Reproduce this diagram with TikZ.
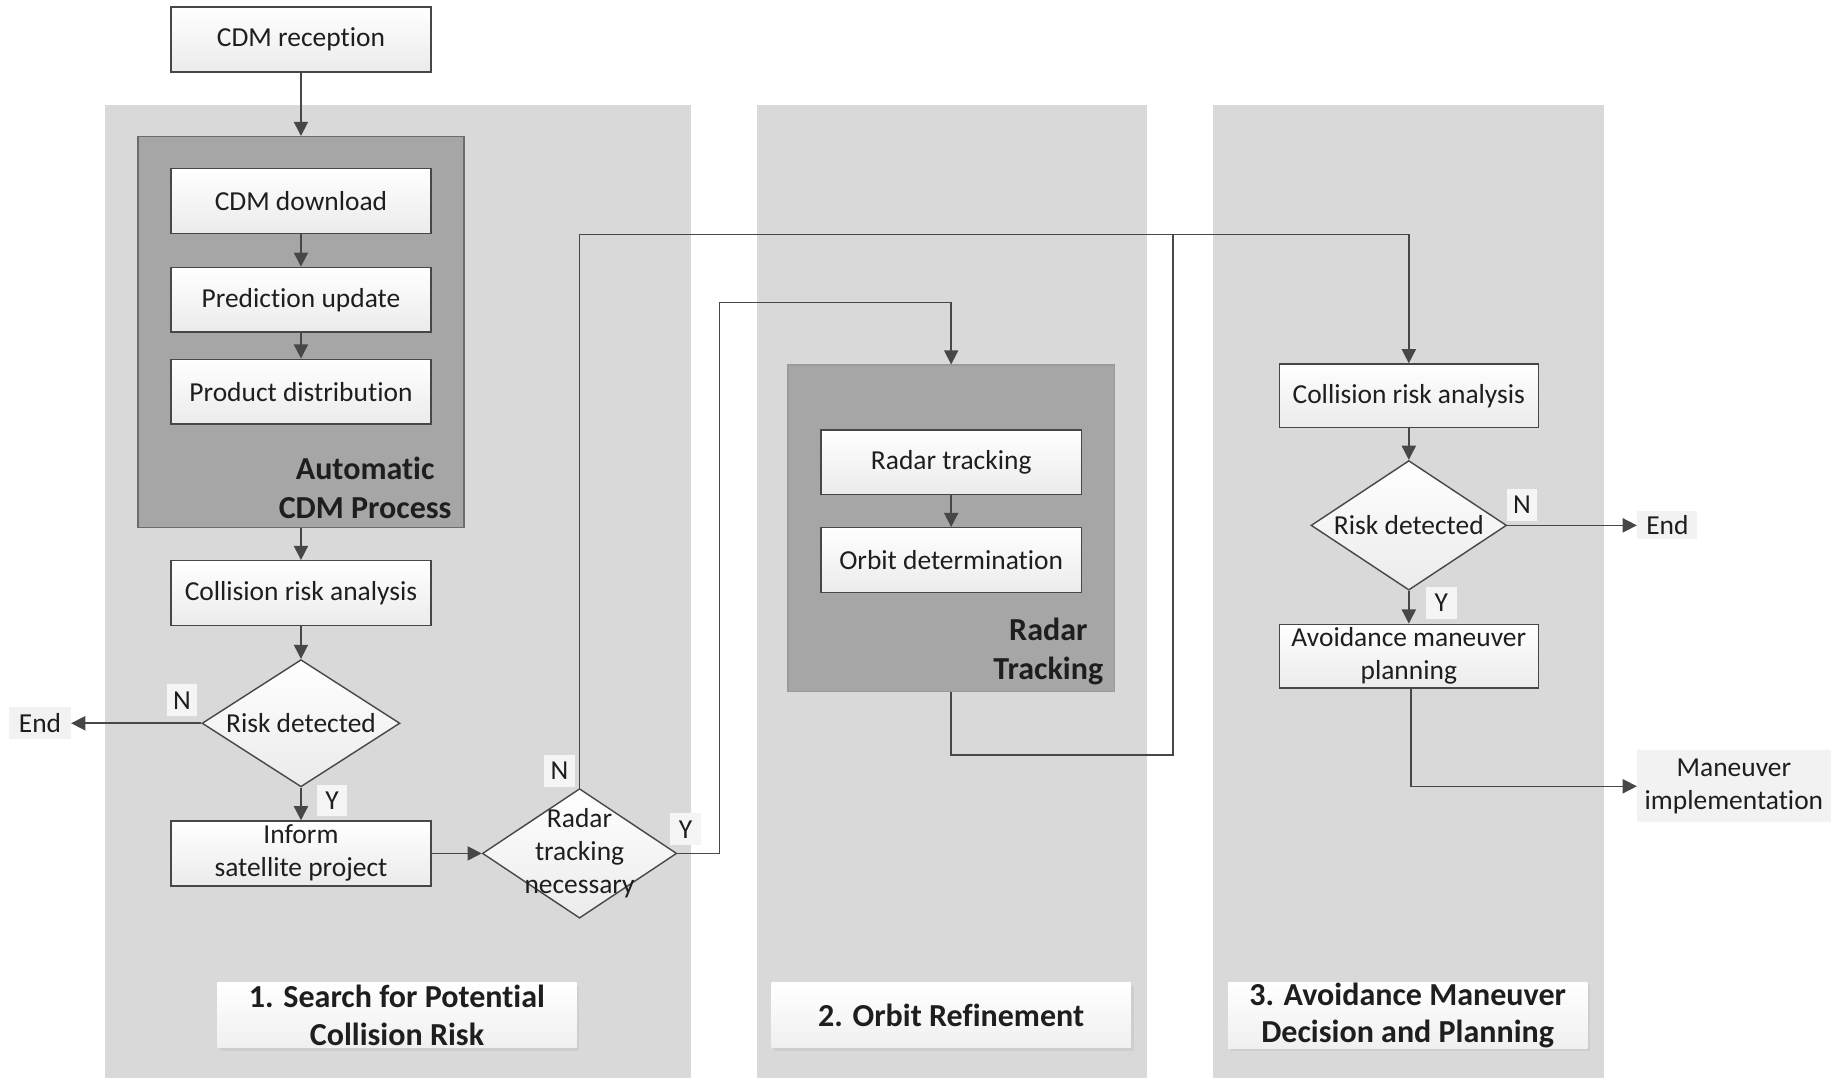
\documentclass[tikz,border=0pt]{standalone}
\usepackage{fontspec}
\setmainfont{Carlito}[Ligatures={NoCommon,NoContextual,NoRequired},Contextuals=NoAlternate]
\usetikzlibrary{arrows.meta,shapes.geometric,calc,shadows}
\definecolor{lanec}{HTML}{D9D9D9}
\definecolor{grpc}{HTML}{A6A6A6}
\definecolor{linec}{HTML}{474747}
\definecolor{txtc}{HTML}{1E1E1E}
\definecolor{boxbot}{HTML}{EBEBEB}
\begin{document}
\begin{tikzpicture}[x=0.5pt,y=-0.5pt,
 every node/.style={text=txtc},
 box/.style={draw=linec, line width=0.6pt, top color=white, bottom color=boxbot, minimum width=110.5pt, minimum height=27.5pt, inner sep=0pt, font=\fontsize{11.65}{14}\selectfont, align=center},
 dia/.style={diamond, draw=linec, line width=0.6pt, top color=white, bottom color=boxbot, inner sep=0pt},
 txt/.style={font=\fontsize{11.65}{14}\selectfont, align=center, inner sep=0pt},
 yn/.style={fill=white!96!black, minimum width=13pt, minimum height=13.5pt, inner sep=0pt, font=\fontsize{11.65}{14}\selectfont},
 endl/.style={fill=white!95!black, inner sep=0pt, font=\fontsize{11.65}{14}\selectfont, align=center},
 grp/.style={fill=grpc, draw=linec!80, line width=0.6pt, inner sep=0pt},
 phase/.style={top color=white, bottom color=white!94!black, minimum width=152.5pt, minimum height=27.5pt, font=\fontsize{13.6}{16}\selectfont\bfseries, align=center, inner sep=0pt, drop shadow={opacity=0.12, shadow xshift=1.2pt, shadow yshift=-1.2pt}},
 boldt/.style={font=\fontsize{13.6}{16.5}\selectfont\bfseries, align=center, inner sep=0pt},
 conn/.style={draw=linec, line width=0.65pt},
 arr/.style={conn, -{Triangle[length=6pt,width=6pt]}},
]
\useasboundingbox (0,0) rectangle (1568,915);
% lanes
\fill[lanec] (89,89) rectangle (587,915);
\fill[lanec] (643,89) rectangle (974,915);
\fill[lanec] (1030,89) rectangle (1362,915);
% phase labels
\node[phase] (ph1) at (337,862) {1. Search for Potential\\Collision Risk};
\node[phase] (ph2) at (807.5,862) {2. Orbit Refinement};
\node[phase] (ph3) at (1195,862) {3. Avoidance Maneuver\\Decision and Planning};
% group boxes
\node[grp, minimum width=138.5pt, minimum height=166pt] (auto) at (255.5,282) {};
\node[boldt] (autot) at (310,414.5) {Automatic\\CDM Process};
\node[grp, draw=linec!55, minimum width=138.5pt, minimum height=138.5pt] (radar) at (807.5,448.5) {};
\node[boldt] (radart) at (890,553) {Radar\\Tracking};
% boxes
\node[box] (rec) at (255.5,33.5) {CDM reception};
\node[box] (dl) at (255.5,170.5) {CDM download};
\node[box] (pu) at (255.5,254.5) {Prediction update};
\node[box] (pd) at (255.5,332.5) {Product distribution};
\node[box] (cra1) at (255.5,503.5) {Collision risk analysis};
\node[box] (inf) at (255.5,724.5) {Inform\\ satellite project};
\node[box] (rt) at (807.5,392.5) {Radar tracking};
\node[box] (od) at (807.5,475.5) {Orbit determination};
\node[box, minimum width=110pt, minimum height=27pt] (cra3) at (1196,336) {Collision risk analysis};
\node[box, minimum width=110pt, minimum height=27pt] (amp) at (1196,557) {Avoidance maneuver\\planning};
% diamonds
\node[dia, minimum width=84pt, minimum height=54pt] (d1) at (255.5,614) {};
\node[txt] (d1t) at (d1) {Risk detected};
\node[dia, minimum width=82.5pt, minimum height=55pt] (d2) at (492,724.5) {};
\node[txt] (d2t) at (d2) {Radar\\tracking\\necessary};
\node[dia, minimum width=83pt, minimum height=55pt] (d3) at (1196,446) {};
\node[txt] (d3t) at (d3) {Risk detected};
% end nodes
\node[endl, minimum width=26pt, minimum height=13.5pt] (end1) at (34,614) {End};
\node[endl, minimum width=25.5pt, minimum height=12pt] (end3) at (1415.5,446) {End};
\node[endl, minimum width=82pt, minimum height=30.5pt] (mi) at (1472,667.5) {Maneuver\\implementation};
% Y/N labels
\node[yn] (n1) at (154.5,594.5) {N};
\node[yn] (y1) at (282,679.5) {Y};
\node[yn] (n2) at (475,654.5) {N};
\node[yn] (y2) at (582,704) {Y};
\node[yn] (n3) at (1292,428.5) {N};
\node[yn] (y3) at (1223.5,512) {Y};
% coordinates
\coordinate (top) at (996,199);
\coordinate (rb) at (996,641);
\coordinate (ya) at (611,257);
% connectors
\draw[arr] (rec.south) -- (auto.north);
\draw[arr] (dl.south) -- (pu.north);
\draw[arr] (pu.south) -- (pd.north);
\draw[arr] (auto.south) -- (cra1.north);
\draw[arr] (cra1.south) -- (d1.north);
\draw[arr] (d1.west) -- (end1.east);
\draw[arr] (d1.south) -- (inf.north);
\draw[arr] (inf.east) -- (d2.west);
\draw[arr] (d2.north) -- (d2.north |- top) -| (cra3.north);
\draw[arr] (d2.east) -| (ya) -| (radar.north);
\draw[conn] (radar.south) |- (rb) -- (top);
\draw[arr] (rt.south) -- (od.north);
\draw[arr] (cra3.south) -- (d3.north);
\draw[arr] (d3.east) -- (end3.west);
\draw[arr] (d3.south) -- (amp.north);
\draw[arr] ([xshift=1pt]amp.south) |- (mi.west);
\end{tikzpicture}
\end{document}
